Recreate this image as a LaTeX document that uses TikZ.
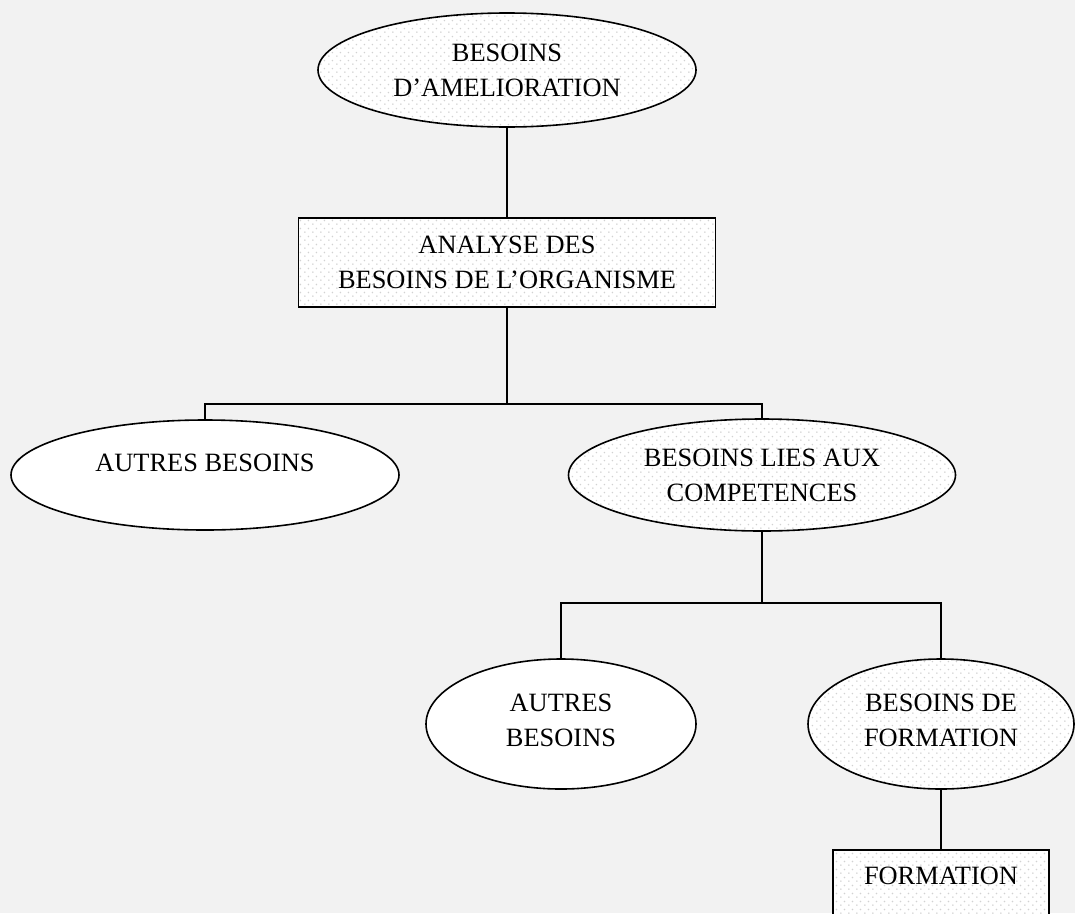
\documentclass[tikz,border=0pt]{standalone}
\usepackage{fontspec}
\setmainfont{Liberation Serif}
\usetikzlibrary{shapes.geometric,patterns}

% light dotted texture used inside some of the shapes
\pgfdeclarepatternformonly{softdots}{\pgfpointorigin}{\pgfpoint{8pt}{8pt}}{\pgfpoint{8pt}{8pt}}{
  \pgfpathcircle{\pgfpoint{1pt}{1pt}}{0.9pt}
  \pgfpathcircle{\pgfpoint{5pt}{5pt}}{0.9pt}
  \pgfusepath{fill}}

\definecolor{pagebg}{HTML}{F2F2F2}
\definecolor{dotgray}{HTML}{D2D2D2}

\tikzset{
  link/.style={line width=1.6pt, line cap=rect},
  dotfill/.style={preaction={fill=white}, pattern=softdots, pattern color=dotgray},
  plainfill/.style={fill=white},
  label font/.style={font=\fontsize{26.4pt}{35pt}\selectfont},
  oval/.style={ellipse, draw, line width=1.6pt, inner sep=0pt, align=center, label font},
  panel/.style={rectangle, draw, line width=1.6pt, inner sep=0pt, align=center, label font},
}

\begin{document}
\begin{tikzpicture}[x=1pt,y=-1pt]
  \fill[pagebg] (0,0) rectangle (1075,913);
  \useasboundingbox (0,0) rectangle (1075,913);
  \clip (0,0) rectangle (1075,913);

  % shapes
  \node[oval, dotfill, minimum width=378, minimum height=114] (amel) at (507,70) {BESOINS\\D’AMELIORATION};
  \node[panel, dotfill, minimum width=417, minimum height=89] (anal) at (507,262.5) {ANALYSE DES\\BESOINS DE L’ORGANISME};
  \node[oval, plainfill, minimum width=388, minimum height=110] (autres1) at (205,475) {AUTRES BESOINS\\[-10pt]\mbox{}};
  \node[oval, dotfill, minimum width=387, minimum height=112] (lies) at (762,475) {BESOINS LIES AUX\\COMPETENCES};
  \node[oval, plainfill, minimum width=270, minimum height=130] (autres2) at (561,724) {AUTRES\\BESOINS\\[-27pt]\mbox{}};
  \node[oval, dotfill, minimum width=266, minimum height=130] (besform) at (941,724) {BESOINS DE\\FORMATION\\[-27pt]\mbox{}};
  \node[panel, dotfill, minimum width=216, minimum height=110, anchor=north] (form) at (941,849) {};
  \node[label font, anchor=base] (formtext) at (941,884) {FORMATION};

  % tree connectors
  \draw[link] (amel.south) -- (anal.north);
  \draw[link] (anal.south) -- ++(0,96) coordinate (j1);
  \draw[link] (autres1.north) |- (j1) -| (lies.north);
  \draw[link] (lies.south) -- ++(0,71) coordinate (j2);
  \draw[link] (autres2.north) |- (j2) -| (besform.north);
  \draw[link] (besform.south) -- (form.north);
\end{tikzpicture}
\end{document}
